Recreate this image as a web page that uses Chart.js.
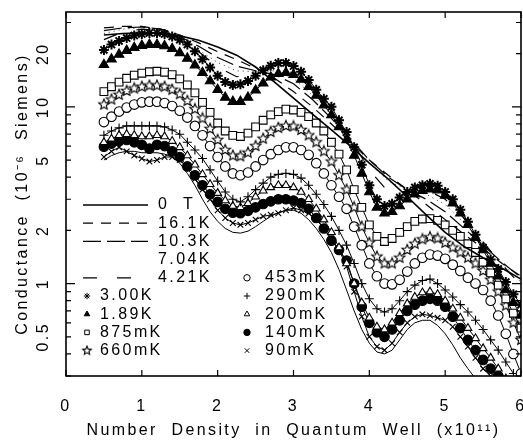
<!DOCTYPE html>
<html>
<head>
<meta charset="utf-8">
<script src="https://cdn.jsdelivr.net/npm/chart.js@4"></script>
<style>
  html, body { margin: 0; padding: 0; background: #fff; }
</style>
</head>
<body>
<canvas id="chart" width="523" height="442"></canvas>
<script>
// density grid (x10^11) for the marker runs and for the smooth high-T lines
var xMarks = [0.5,0.6,0.7,0.8,0.9,1.0,1.1,1.2,1.3,1.4,1.5,1.6,1.7,1.8,1.9,2.0,2.1,2.2,2.3,2.4,
              2.5,2.6,2.7,2.8,2.9,3.0,3.1,3.2,3.3,3.4,3.5,3.6,3.7,3.8,3.9,4.0,4.1,4.2,4.3,4.4,
              4.5,4.6,4.7,4.8,4.9,5.0,5.1,5.2,5.3,5.4,5.5,5.6,5.7,5.8,5.9,6.0];
var xLine = [0.5,0.75,1,1.25,1.5,1.75,2,2.25,2.5,2.75,3,3.25,3.5,3.75,4,4.25,4.5,4.75,5,5.25,5.5,5.75,6];

var xTicks = [0,1,2,3,4,5,6];
var yTicks = [0.5,1,2,5,10,20];
var yMajor = [1,10];
var yMinor = [0.3,0.4,0.5,0.6,0.7,0.8,0.9,2,3,4,5,6,7,8,9,20,30];

// conductance (10^-6 S)
var g0T   = [25.5,26.0,26.2,26.0,25.2,23.8,21.8,19.6,16.8,13.8,11.2,9.1,7.4,6.0,4.8,3.9,3.1,2.45,1.95,1.62,1.4,1.22,1.06];
var g161K = [28,28.5,28.5,27.5,25.5,23,20.5,18.5,16.5,14.5,12.2,10,8.0,6.3,5.0,4.1,3.4,2.8,2.3,1.9,1.58,1.3,1.1];
var g103K = [27,28,28.3,27.5,25,22,19,17,16,15.2,13.5,11,8.6,6.6,5.0,4.0,3.4,3.0,2.55,2.05,1.65,1.32,1.08];
var g704K = [26,27.5,28,27.2,24.6,21,17.8,16,15.8,16,14.5,11.6,9.0,6.7,4.8,3.8,3.4,3.2,2.8,2.2,1.68,1.3,1.02];
var g421K = [24,26.5,27.5,27,24.5,20.5,16.8,14.8,15.3,16.8,15.5,12.2,9.4,6.6,4.4,3.3,3.3,3.4,3.0,2.35,1.72,1.28,0.98];

var g300K = [21.0,22.5,23.6,24.5,25.3,25.8,26.2,26.2,25.8,25.0,24.0,22.5,20.6,18.6,16.7,15.0,13.8,13.3,13.4,14.0,
             15.0,16.1,17.1,17.7,17.7,17.0,15.8,14.2,12.5,11.1,10.0,8.4,7.2,5.9,4.7,3.6,3.0,2.75,2.83,3.07,
             3.3,3.5,3.6,3.67,3.58,3.3,3.0,2.62,2.24,1.89,1.6,1.37,1.21,1.02,0.87,0.76];
var g189K = [17.3,18.6,19.8,20.8,21.6,22.2,22.5,22.5,22.1,21.3,20.2,18.8,17.2,15.6,14.0,12.5,11.3,10.7,10.7,11.3,
             12.4,13.6,14.7,15.4,15.6,15.2,14.3,13.0,11.6,10.2,9.0,7.7,6.5,5.3,4.2,3.3,2.7,2.5,2.55,2.75,
             3.0,3.2,3.35,3.42,3.38,3.15,2.85,2.5,2.15,1.82,1.55,1.3,1.1,0.92,0.78,0.66];
var g875m = [12.2,13.0,13.8,14.5,15.1,15.5,15.8,15.9,15.7,15.2,14.4,13.3,12.0,10.6,9.3,8.1,7.3,6.9,6.8,7.1,
             7.7,8.4,9.0,9.4,9.7,9.6,9.3,8.8,8.1,7.3,6.3,5.4,4.4,3.4,2.7,2.15,1.85,1.73,1.8,1.95,
             2.1,2.25,2.32,2.33,2.28,2.15,2.0,1.85,1.68,1.5,1.32,1.15,0.98,0.82,0.68,0.56];
var g660m = [10.3,11.0,11.7,12.3,12.7,13.0,13.2,13.2,13.0,12.5,11.8,10.8,9.7,8.6,7.5,6.5,5.7,5.3,5.25,5.5,
             6.0,6.6,7.2,7.6,7.8,7.75,7.4,6.9,6.3,5.6,4.9,4.1,3.4,2.7,2.1,1.7,1.42,1.3,1.3,1.4,
             1.55,1.68,1.78,1.83,1.8,1.7,1.6,1.5,1.4,1.3,1.18,1.05,0.9,0.75,0.6,0.48];
var g453m = [8.2,8.8,9.4,9.9,10.3,10.6,10.7,10.7,10.5,10.1,9.5,8.7,7.8,6.9,6.0,5.2,4.6,4.2,4.1,4.25,
             4.6,5.0,5.4,5.7,5.9,5.9,5.7,5.35,4.8,4.2,3.6,3.1,2.65,2.1,1.65,1.3,1.1,1.0,0.99,1.05,
             1.17,1.3,1.4,1.46,1.44,1.38,1.28,1.18,1.08,1.0,0.92,0.8,0.66,0.52,0.4,0.31];
var g290m = [6.9,7.3,7.6,7.8,7.8,7.8,7.8,7.8,7.7,7.4,7.0,6.3,5.7,5.1,4.4,3.8,3.3,3.0,2.9,3.1,
             3.4,3.7,4.0,4.15,4.2,4.15,3.95,3.6,3.2,2.8,2.4,2.0,1.65,1.3,1.0,0.82,0.72,0.69,0.72,0.8,
             0.9,0.98,1.04,1.06,1.0,0.92,0.84,0.76,0.69,0.62,0.55,0.48,0.42,0.36,0.31];
var g200m = [6.3,6.6,6.9,7.0,6.9,6.8,6.8,6.9,6.8,6.4,5.9,5.3,4.7,4.15,3.65,3.25,2.95,2.75,2.7,2.85,
             3.1,3.35,3.5,3.6,3.6,3.5,3.3,3.0,2.65,2.3,1.95,1.6,1.3,1.0,0.78,0.64,0.57,0.55,0.6,0.68,
             0.77,0.84,0.89,0.9,0.87,0.8,0.72,0.64,0.56,0.49,0.43,0.38,0.33,0.29];
var g140m = [5.95,6.2,6.4,6.5,6.3,6.1,5.8,6.1,6.0,5.6,5.2,4.6,4.1,3.6,3.2,2.9,2.65,2.52,2.5,2.58,
             2.7,2.82,2.92,3.0,3.0,2.95,2.85,2.65,2.35,2.05,1.75,1.55,1.35,1.0,0.74,0.6,0.53,0.5,0.55,0.62,
             0.7,0.76,0.8,0.82,0.8,0.74,0.65,0.56,0.48,0.42,0.37,0.33,0.3];
var g90m  = [5.2,5.6,5.9,5.6,5.3,5.1,4.9,5.0,5.2,5.2,5.0,4.5,3.9,3.4,3.0,2.6,2.35,2.2,2.15,2.2,
             2.3,2.4,2.45,2.5,2.6,2.68,2.6,2.5,2.3,2.05,1.8,1.55,1.25,0.9,0.65,0.5,0.44,0.42,0.46,0.53,
             0.6,0.65,0.67,0.66,0.64,0.62,0.57,0.5,0.44,0.38,0.33,0.3];
var gFit  = [5.0,5.3,5.5,5.6,5.6,5.5,5.5,5.5,5.4,5.2,4.8,4.2,3.6,3.0,2.55,2.25,2.05,1.95,1.93,1.98,
             2.1,2.25,2.4,2.52,2.6,2.6,2.5,2.3,2.05,1.78,1.5,1.2,0.92,0.7,0.55,0.46,0.41,0.4,0.42,0.48,
             0.55,0.6,0.62,0.62,0.58,0.52,0.45,0.38,0.33,0.29];

function pts(xs, ys) {
  return ys.map(function(v, i) { return {x: xs[i], y: v}; });
}

// open five-point star, the 660mK symbol
function openStar(r) {
  var cv = document.createElement('canvas');
  var s = Math.ceil(r * 2 + 3);
  cv.width = s; cv.height = s;
  var c = cv.getContext('2d');
  c.beginPath();
  for (var k = 0; k < 10; k++) {
    var rr = k % 2 ? r * 0.45 : r;
    var ang = -Math.PI / 2 + k * Math.PI / 5;
    var px = s / 2 + rr * Math.cos(ang), py = s / 2 + rr * Math.sin(ang);
    if (k) c.lineTo(px, py); else c.moveTo(px, py);
  }
  c.closePath();
  c.fillStyle = '#fff'; c.fill();
  c.strokeStyle = '#000'; c.lineWidth = 1.1; c.stroke();
  return cv;
}
var starBig = openStar(5.5);
var starSmall = openStar(4.5);

function lineSet(label, xs, ys, dash, w) {
  return { label: label, data: pts(xs, ys), borderColor: '#000', borderWidth: w,
           borderDash: dash, pointRadius: 0, fill: false };
}
function markSet(label, ys, style, bg, r, pw) {
  return { label: label, data: pts(xMarks, ys), borderColor: '#000', borderWidth: 1,
           pointStyle: style, pointRadius: r, pointBackgroundColor: bg,
           pointBorderColor: '#000', pointBorderWidth: pw || 1.1, fill: false };
}

var datasets = [
  lineSet('0  T', xLine, g0T, [], 1.6),
  lineSet('16.1K', xLine, g161K, [10, 8], 1.2),
  lineSet('10.3K', xLine, g103K, [18, 6], 1.2),
  lineSet('7.04K', xLine, g704K, [1, 4], 0.8),
  lineSet('4.21K', xLine, g421K, [14, 20], 1.2),
  markSet('3.00K', g300K, 'star', '#000', 5, 2),
  markSet('1.89K', g189K, 'triangle', '#000', 5.5),
  markSet('875mK', g875m, 'rect', '#fff', 5.5),
  markSet('660mK', g660m, starBig, '#fff', 5),
  markSet('453mK', g453m, 'circle', '#fff', 4.8),
  markSet('290mK', g290m, 'cross', '#000', 4.5),
  markSet('200mK', g200m, 'triangle', '#fff', 4.5),
  markSet('140mK', g140m, 'circle', '#000', 4.8),
  markSet('90mK', g90m, 'crossRot', '#000', 4),
  lineSet('', xMarks, gFit, [], 1)
];

// legend placement: column 0 / 1, row index; sample: line sample drawn or not
var legendSpec = [
  {col: 0, row: 0, sample: true}, {col: 0, row: 1, sample: true}, {col: 0, row: 2, sample: true},
  {col: 0, row: 3, sample: false}, {col: 0, row: 4, sample: true},
  {col: 0, row: 5}, {col: 0, row: 6}, {col: 0, row: 7}, {col: 0, row: 8},
  {col: 1, row: 4}, {col: 1, row: 5}, {col: 1, row: 6}, {col: 1, row: 7}, {col: 1, row: 8},
  null
];

var spacing = {
  id: 'spacing',
  beforeDraw: function(chart) { chart.ctx.letterSpacing = '2.4px'; }
};

var frame = {
  id: 'frame',
  afterDatasetsDraw: function(chart) {
    var c = chart.ctx, a = chart.chartArea, sx = chart.scales.x, sy = chart.scales.y;
    c.save();
    c.strokeStyle = '#000';
    c.lineWidth = 1.6;
    c.strokeRect(a.left, a.top, a.right - a.left, a.bottom - a.top);
    c.lineWidth = 1.2;
    c.beginPath();
    xTicks.forEach(function(v) {
      var p = sx.getPixelForValue(v);
      c.moveTo(p, a.bottom); c.lineTo(p, a.bottom - 6);
      c.moveTo(p, a.top); c.lineTo(p, a.top + 6);
    });
    yMinor.forEach(function(v) {
      var p = sy.getPixelForValue(v);
      c.moveTo(a.left, p); c.lineTo(a.left + 5, p);
      c.moveTo(a.right, p); c.lineTo(a.right - 5, p);
    });
    yMajor.forEach(function(v) {
      var p = sy.getPixelForValue(v);
      c.moveTo(a.left, p); c.lineTo(a.left + 9, p);
      c.moveTo(a.right, p); c.lineTo(a.right - 9, p);
    });
    c.stroke();
    c.restore();
  }
};

var keyBox = {
  id: 'keyBox',
  afterDraw: function(chart) {
    var c = chart.ctx, a = chart.chartArea;
    c.save();
    c.letterSpacing = '2.4px';
    c.font = "16px 'Liberation Sans', Arial, sans-serif";
    c.textBaseline = 'middle';
    c.textAlign = 'left';
    c.strokeStyle = '#000';
    chart.data.datasets.forEach(function(ds, i) {
      var k = legendSpec[i];
      if (!k) return;
      var y = a.top + 193 + k.row * 18.2;
      if (ds.pointRadius === 0) {
        if (k.sample) {
          c.setLineDash(ds.borderDash);
          c.lineWidth = ds.borderWidth;
          c.beginPath(); c.moveTo(a.left + 17, y); c.lineTo(a.left + 82, y); c.stroke();
          c.setLineDash([]);
        }
        c.fillStyle = '#000';
        c.fillText(ds.label, a.left + 92, y);
      } else {
        var mx = k.col ? a.left + 181 : a.left + 21;
        var tx = k.col ? a.left + 199 : a.left + 34;
        var style = ds.pointStyle === starBig ? starSmall : ds.pointStyle;
        c.fillStyle = ds.pointBackgroundColor;
        c.lineWidth = 1;
        Chart.helpers.drawPoint(c, {pointStyle: style, radius: 3.2, rotation: 0, borderWidth: 1}, mx, y);
        c.fillStyle = '#000';
        c.fillText(ds.label, tx, y);
      }
    });
    c.restore();
  }
};

Chart.defaults.font.family = "'Liberation Sans', Arial, sans-serif";
Chart.defaults.font.size = 16;
Chart.defaults.color = '#000';

new Chart(document.getElementById('chart').getContext('2d'), {
  type: 'line',
  data: { datasets: datasets },
  options: {
    responsive: false,
    animation: false,
    devicePixelRatio: 1,
    layout: { autoPadding: false, padding: { top: 12, right: 2, left: 0, bottom: 0 } },
    elements: { line: { tension: 0 } },
    plugins: { legend: { display: false }, tooltip: { enabled: false } },
    scales: {
      x: {
        type: 'linear', min: 0, max: 6,
        afterBuildTicks: function(s) { s.ticks = xTicks.map(function(v) { return {value: v}; }); },
        afterFit: function(s) { s.height = 66; s.paddingLeft = 0; s.paddingRight = 0; },
        grid: { display: false, drawTicks: false },
        border: { display: false },
        ticks: { padding: 21, maxRotation: 0, autoSkip: false },
        title: { display: true, text: 'Number  Density  in  Quantum  Well  (x10\u00b9\u00b9)',
                 padding: { top: 0, bottom: 2 } }
      },
      y: {
        type: 'logarithmic', min: 0.3, max: 34.4,
        afterBuildTicks: function(s) { s.ticks = yTicks.map(function(v) { return {value: v}; }); },
        afterFit: function(s) { s.width = 66; s.paddingTop = 0; s.paddingBottom = 0; },
        grid: { display: false, drawTicks: false },
        border: { display: false },
        ticks: { minRotation: 90, maxRotation: 90, crossAlign: 'center', padding: 11, autoSkip: false,
                 callback: function(v) { return String(v); } },
        title: { display: true, text: 'Conductance  (10\u207b\u2076  Siemens)', padding: { top: 13, bottom: 0 } }
      }
    }
  },
  plugins: [spacing, frame, keyBox]
});
</script>
</body>
</html>
